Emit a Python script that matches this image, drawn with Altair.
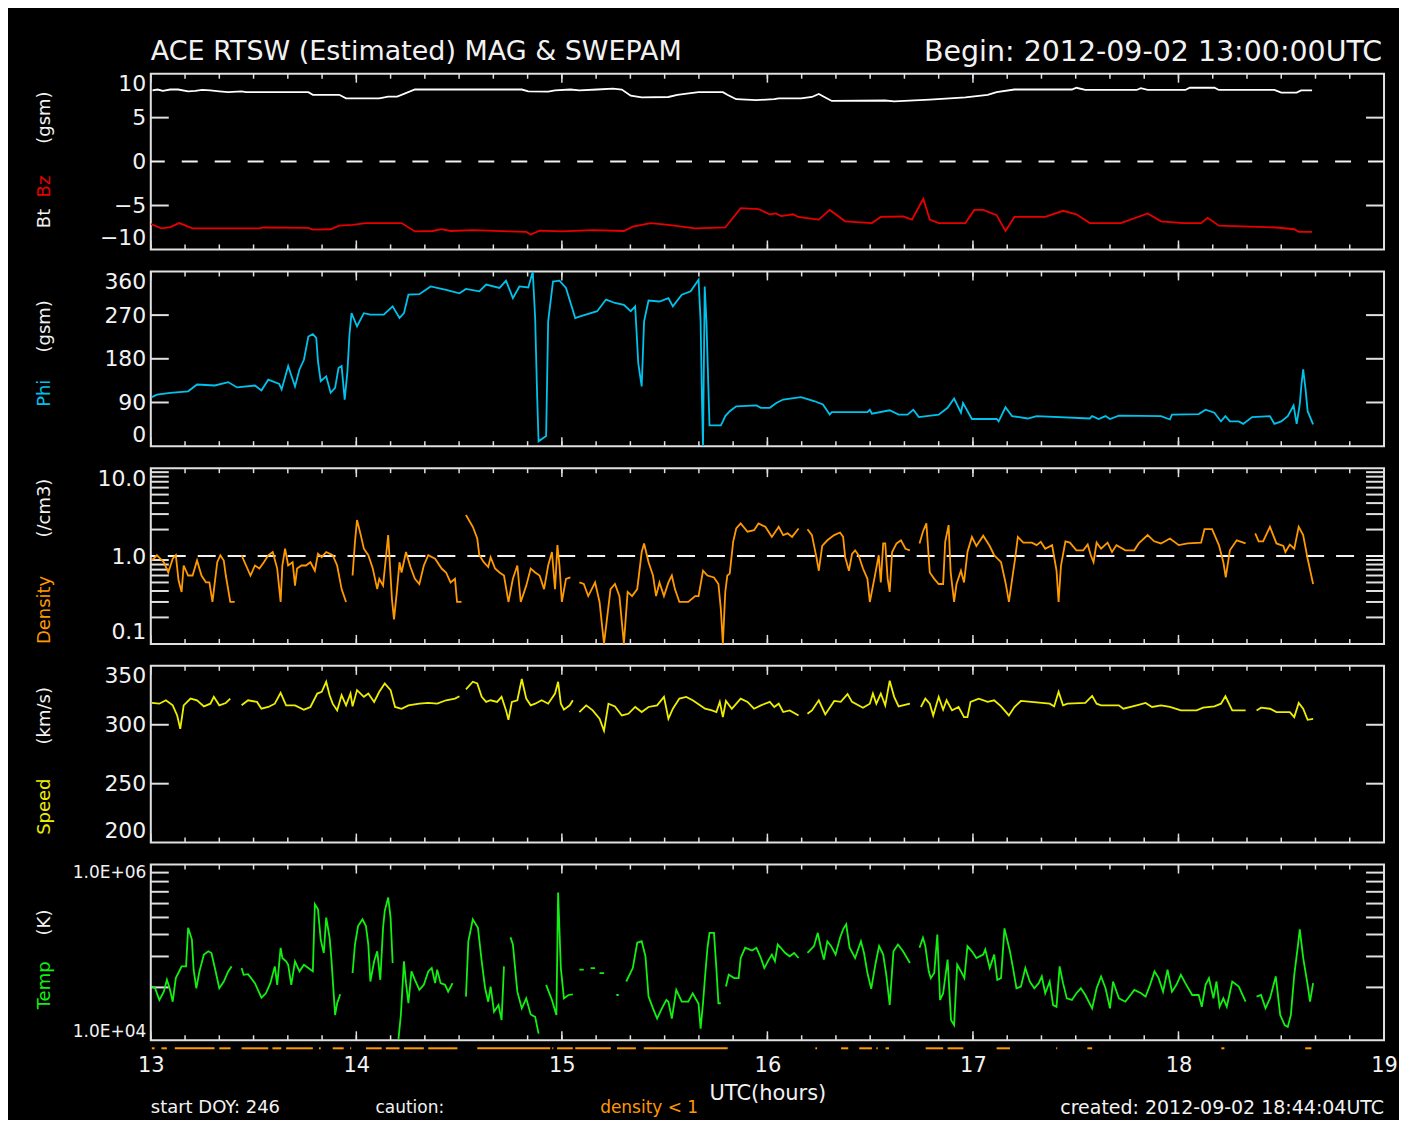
import altair as alt
import pandas as pd

# ---------------- data: (minutes after 13:00 UTC, value) ----------------
bt_segments = [[(0.5, 8.1), (2, 8.2), (3.5, 8.05), (5.7, 8.2), (8, 8.2), (10.9, 8.0), (13, 8.05), (15, 8.15),
                (17.4, 8.1), (20, 8.0), (22.6, 7.9), (26.5, 8.0), (27.8, 7.9), (46, 7.9), (47.3, 7.6), (55, 7.6),
                (57, 7.2), (66.7, 7.2), (69.3, 7.4), (71.9, 7.4), (73.9, 7.7), (77.1, 8.2), (108.3, 8.2),
                (110.2, 8.0), (116, 7.95), (118, 8.1), (122.5, 8.2), (125.1, 8.1), (130.3, 8.2), (134.9, 8.3),
                (137.5, 8.2), (140.1, 7.5), (143.3, 7.3), (151.1, 7.35), (153.7, 7.6), (157.6, 7.8), (159.9, 7.9),
                (167, 7.9), (168.3, 7.6), (170.9, 7.1), (176.8, 7.0), (182, 7.1), (183.3, 7.2), (189.8, 7.2),
                (193, 7.35), (195, 7.7), (196.9, 7.3), (198.8, 6.9), (214.4, 6.95), (217, 6.85), (227.4, 7.05),
                (237.8, 7.3), (244.3, 7.6), (246.9, 7.9), (252.1, 8.2), (268.9, 8.2), (270.2, 8.4), (272.8, 8.15),
                (287.8, 8.15), (289, 8.35), (291, 8.15), (302, 8.15), (303.3, 8.4), (310.5, 8.4), (311.8, 8.15),
                (328, 8.15), (330, 7.85), (334.5, 7.85), (335.8, 8.1), (339, 8.1)]]

bz_segments = [[(0, -7.1), (3.1, -7.6), (5.7, -7.45), (8.3, -7.0), (12.2, -7.6), (31.7, -7.6), (33, -7.5),
                (46, -7.55), (47.3, -7.75), (52.5, -7.7), (55, -7.3), (58.9, -7.2), (62.8, -7.0), (73.2, -7.0),
                (77.1, -7.95), (82.3, -7.9), (84.9, -7.7), (87.5, -7.9), (94, -7.8), (109.6, -8.0), (110.9, -8.3),
                (113.5, -7.85), (120, -7.95), (129, -7.8), (138.1, -7.9), (140.7, -7.4), (145.9, -7.0),
                (151.1, -7.2), (155, -7.4), (158.9, -7.6), (167.7, -7.5), (172.2, -5.3), (177.4, -5.4),
                (180.7, -6.0), (182.5, -5.9), (184, -6.2), (185.9, -6.1), (187.5, -6.0), (189, -6.3),
                (191.1, -6.4), (195, -6.6), (198.2, -5.5), (202.7, -6.8), (210.5, -7.0), (213.1, -6.3),
                (219.6, -6.25), (222.2, -6.6), (225.5, -4.24), (227.4, -6.6), (230, -7.0), (237.8, -7.0),
                (240.4, -5.5), (243, -5.5), (246.9, -6.1), (249.5, -7.9), (252.1, -6.3), (261.1, -6.3),
                (266.3, -5.6), (270.2, -6.0), (274.1, -7.0), (283.2, -7.0), (291, -5.9), (294.9, -6.8),
                (301.4, -7.0), (306.6, -7.0), (308.5, -6.4), (311.8, -7.3), (320.9, -7.4), (328.6, -7.5),
                (333.8, -7.7), (335.1, -8.0), (339, -8.0)]]

phi_segments = [[(0.3, 101), (1.8, 106), (5.7, 110), (10.9, 113), (13.5, 127), (18.7, 125), (22.6, 132),
                 (25.2, 121), (30.4, 125), (32.3, 115), (34.3, 137), (37.5, 128), (38.2, 117), (40.1, 165),
                 (42.1, 123), (43.4, 158), (44.7, 178), (46, 226), (47.3, 231), (48.3, 223), (48.8, 175),
                 (49.6, 134), (51.2, 144), (52.5, 110), (53.8, 120), (54.8, 161), (55.7, 165), (56.6, 96),
                 (57.4, 154), (58, 230), (58.6, 274), (60.2, 247), (62.2, 274), (64.1, 271), (68, 271),
                 (70.6, 288), (72.6, 264), (73.9, 274), (75.2, 312), (78.4, 313), (81.7, 329), (86.2, 322),
                 (90.1, 315), (92, 324), (95.9, 319), (97.9, 333), (101.8, 326), (103.7, 341), (105.7, 305),
                 (107.6, 329), (110.2, 327), (111.5, 360), (112.2, 264), (112.8, 99), (113.2, 10), (115.4, 21),
                 (116, 257), (117.4, 339), (119.3, 341), (121.2, 326), (123.9, 264), (125.1, 267), (130.3, 278),
                 (132.9, 302), (135.5, 295), (138.1, 291), (140.1, 278), (141.4, 288), (142.3, 171), (143.3, 123),
                 (144, 257), (145.3, 300), (148.5, 298), (151.1, 305), (152.4, 288), (155, 312), (157.6, 319),
                 (159.9, 343), (160.5, 257), (160.9, 93), (161.2, 0), (161.7, 329), (162.2, 257), (162.8, 113),
                 (163.1, 43), (166.4, 43), (167, 51), (167.7, 62), (169, 72), (170.9, 82), (176.8, 84),
                 (178.1, 79), (180.7, 79), (182.6, 89), (184.6, 96), (189.8, 101), (193.6, 93), (196.2, 86),
                 (198.2, 65), (198.8, 70), (209.2, 70), (209.9, 75), (210.5, 67), (215.7, 74), (218.3, 65),
                 (220.9, 65), (222.6, 75), (224.2, 60), (230, 65), (232.6, 79), (234.5, 98), (236.5, 69),
                 (237.1, 89), (239.7, 56), (246.9, 56), (247.5, 51), (249.5, 80), (251.4, 62), (256, 57),
                 (258.6, 62), (274.1, 57), (274.8, 62), (276.7, 56), (278.7, 62), (280, 56), (282.6, 63),
                 (294.9, 62), (297.5, 55), (298.1, 65), (305.9, 66), (307.9, 75), (310.5, 69), (312.4, 51),
                 (313.7, 62), (315, 51), (317.6, 51), (318.9, 46), (321.5, 60), (326.7, 62), (328, 46),
                 (330, 51), (331.9, 62), (333.6, 84), (334.5, 46), (335.4, 86), (335.9, 127), (336.4, 158),
                 (337.1, 117), (337.7, 72), (339.3, 45)]]

density_segments = [
    [(0.3, 0.89), (1.8, 1.02), (3.8, 0.85), (5.1, 0.65), (6.4, 0.93), (7.3, 1.02), (8.1, 0.53), (9, 0.39),
     (9.6, 0.78), (10.9, 0.60), (12.2, 0.60), (13.5, 0.89), (14.8, 0.60), (16.1, 0.50), (17.1, 0.50),
     (18, 0.30), (19.4, 0.85), (20.3, 1.02), (21.3, 0.89), (21.9, 0.60), (23.2, 0.30), (24.5, 0.30)],
    [(26.5, 1.02), (27.8, 0.78), (29.1, 0.60), (30.4, 0.78), (31.7, 0.72), (33, 0.85), (34.3, 1.02),
     (35.6, 1.11), (36.9, 0.72), (37.9, 0.30), (38.4, 0.78), (39.2, 1.21), (40.1, 0.78), (41.4, 0.85),
     (42.1, 0.46), (42.7, 0.72), (44, 0.78), (45.3, 0.78), (46.6, 0.85), (47.9, 0.68), (48.8, 1.06),
     (49.9, 0.97), (51.2, 1.11), (53.1, 1.02), (54.4, 0.78), (55.7, 0.42), (57, 0.30)],
    [(58.9, 0.60), (59.6, 1.45), (60.2, 2.57), (61.3, 1.73), (62.2, 1.21), (63.5, 1.02), (64.8, 0.72),
     (66.1, 0.42), (66.7, 0.55), (67.8, 0.46), (68.7, 1.02), (69.3, 1.73), (70.4, 0.32), (71, 0.19),
     (71.9, 0.42), (72.6, 0.85), (73.2, 0.65), (74.5, 1.11), (75.8, 0.75), (77.1, 0.55), (78.4, 0.48),
     (79.7, 0.78), (81, 1.02), (83, 0.93), (84.9, 0.72), (86.2, 0.65), (87.5, 0.50), (88.8, 0.55),
     (89.4, 0.30), (90.7, 0.30)],
    [(92, 2.93), (94, 2.15), (95.3, 1.58), (95.9, 1.02), (97.2, 0.85), (98.5, 0.75), (99.2, 0.97),
     (100.5, 0.72), (101.8, 0.65), (103.1, 0.60), (104.4, 0.30), (105.7, 0.55), (107, 0.78), (108, 0.30),
     (109.6, 0.46), (110.9, 0.72), (112.2, 0.65), (113.5, 0.60), (114.8, 0.42), (116, 0.78), (117.1, 1.11),
     (118, 0.42), (118.7, 1.33), (119.3, 0.78), (120, 0.30), (121.2, 0.55), (122.5, 0.57)],
    [(125.1, 0.50), (126.4, 0.48), (127.7, 0.35), (129.7, 0.50), (131, 0.30), (132.3, 0.10), (134.2, 0.42),
     (135.5, 0.48), (136.8, 0.35), (138.1, 0.10), (139.2, 0.39), (140.5, 0.35), (142, 0.42), (143.3, 1.11),
     (144, 1.39), (145.3, 0.85), (146.6, 0.60), (147.5, 0.35), (148.5, 0.50), (149.8, 0.35), (151.1, 0.50),
     (152.1, 0.60), (153, 0.42), (154.3, 0.30), (156.9, 0.30), (158.9, 0.35), (159.9, 0.35), (161.2, 0.68),
     (162.5, 0.60), (164.4, 0.57), (165.7, 0.48), (166.4, 0.25), (167, 0.10), (167.7, 0.39), (168.3, 0.60),
     (169, 0.63), (170, 1.45), (170.9, 2.06), (172.2, 2.35), (174.2, 1.89), (176.1, 1.97), (177.4, 2.35),
     (179.4, 2.15), (181.3, 1.65), (183.3, 2.15), (184.6, 1.73), (185.9, 1.81), (187.2, 1.65), (189.1, 2.06)],
    [(191.7, 2.02), (193, 1.73), (194.3, 0.97), (195, 0.68), (196, 1.30), (197.5, 1.51), (199.5, 1.73),
     (201.2, 1.85), (202.1, 1.65), (202.7, 0.97), (203.8, 0.68), (204.7, 1.06), (205.6, 1.16), (206.6, 1.02),
     (207.9, 0.72), (209.2, 0.55), (209.9, 0.30), (211.2, 0.55), (212.5, 1.02), (213.1, 0.50), (213.8, 1.39),
     (214.4, 1.39), (215.1, 0.55), (215.7, 0.39), (216.4, 1.11), (217.7, 1.39), (219, 1.51), (220.3, 1.21),
     (221.6, 1.16)],
    [(224.4, 1.39), (225.4, 1.89), (226.4, 2.35), (227.4, 0.65), (228.7, 0.55), (230, 0.48), (231.3, 0.48),
     (231.9, 1.45), (232.9, 2.25), (233.5, 0.65), (234.5, 0.30), (235.2, 0.48), (236.5, 0.68), (237.4, 0.50),
     (238.4, 1.11), (239.7, 1.65), (241, 1.30), (243, 1.70), (244.9, 1.30), (246.2, 1.02), (248.2, 0.85),
     (249.5, 0.50), (250.5, 0.30), (251.4, 0.53), (252.3, 0.93), (253.1, 1.65), (254.7, 1.42), (257.2, 1.42),
     (258.6, 1.33), (259.8, 1.45), (261.1, 1.21), (263.1, 1.33), (264.4, 0.68), (265, 0.30), (265.7, 0.78),
     (267, 1.47), (268.3, 1.42), (270.2, 1.16), (272.2, 1.16), (273.5, 1.35), (274.4, 1.02), (275.2, 0.85),
     (276.1, 1.42), (277.4, 1.21), (279.3, 1.42), (280.6, 1.11), (281.9, 1.33), (284.5, 1.16), (287.1, 1.16),
     (288.4, 1.39), (291, 1.73), (292.9, 1.47), (294.9, 1.39), (297.5, 1.58), (300.1, 1.33), (302.7, 1.39),
     (306.6, 1.42), (307.6, 2.02), (309.8, 2.02), (311.8, 1.33), (313.1, 0.85), (313.8, 0.57), (315, 1.16),
     (317, 1.51), (319.6, 1.39)],
    [(322.4, 1.81), (323.4, 1.47), (324.7, 1.47), (326.7, 2.15), (328.6, 1.39), (330.6, 1.30), (331.2, 1.11),
     (332.5, 1.35), (333.8, 1.21), (335.1, 2.15), (336.4, 1.73), (337.7, 0.93), (339.3, 0.48)],
]

speed_segments = [
    [(0.3, 318.5), (2.5, 317.9), (4.4, 320.8), (6.4, 316.5), (7.7, 307.9), (8.6, 296.5), (9.6, 316.5),
     (11.6, 322.2), (13.5, 320.8), (15.5, 315.6), (17.4, 317.9), (18.4, 323.7), (20, 316.5), (21.9, 318.5),
     (23.2, 322.2)],
    [(26.5, 316.5), (28.4, 320.8), (31, 319.4), (32.3, 313.6), (34.3, 315.1), (36.2, 317.9), (37.9, 327.1),
     (39.5, 316.5), (42.1, 316.5), (44.7, 312.8), (46.6, 315.1), (48.6, 326.5), (49.9, 328), (51.2, 336.5),
     (52.2, 325.1), (53.1, 317.9), (54.4, 312.2), (55.7, 325.1), (57, 316.5), (58.3, 326.5), (58.9, 315.6),
     (60.2, 329.4), (62.2, 323.7), (63.5, 326.5), (65.2, 319.4), (66.7, 328), (68.3, 335.1), (70, 329.4),
     (71.3, 315.1), (73.2, 313.6), (75.2, 316.5), (78.4, 317.9), (81, 318.5), (83.6, 317.9), (86.2, 320.8),
     (88.8, 322.2), (90.1, 324.2)],
    [(92, 330), (94, 336.5), (95.3, 335.1), (96.6, 323.7), (97.9, 319.4), (99.2, 320.8), (101.1, 319.4),
     (102.4, 323.7), (103.7, 312.2), (104.4, 304.2), (105.4, 319.4), (107, 320.8), (108.3, 338.8),
     (109.6, 322.2), (110.9, 316.5), (112.2, 317.9), (114.1, 320.8), (116, 317.9), (118, 326.5),
     (118.9, 336.5), (119.7, 317.9), (120.6, 312.8), (122.3, 316.5), (123.2, 320.8)],
    [(125.1, 310.8), (127.1, 316.5), (129, 312.2), (131, 305.1), (132.3, 295), (133.6, 317.9), (135.5, 315.6),
     (137.5, 307.9), (139.4, 309.3), (141.4, 315.1), (143.3, 310.8), (145.3, 315.1), (147.8, 316.5),
     (149.8, 323.7), (151.1, 305.1), (152.4, 313.6), (154.3, 322.2), (156.3, 323.7), (158.2, 320.8),
     (159.9, 317.5), (161.8, 313.6), (163.8, 312.2), (165.1, 310.8), (166.1, 319.4), (167, 306.5),
     (167.9, 320.2), (169.6, 313.6), (172.2, 322.2), (174.2, 319.4), (176.1, 313.6), (178.1, 316.5),
     (180.7, 319.4), (182, 315.1), (183.3, 317.9), (184.6, 310.8), (186.5, 312.2), (189.1, 307.9)],
    [(191.7, 309.3), (193, 312.2), (195, 320.8), (196.9, 308.8), (199.5, 320.2), (201.4, 319.4), (203.4, 326),
     (204.7, 319.4), (207.9, 314.5), (209.9, 317.9), (210.8, 326.5), (211.8, 317.9), (213.1, 326.5),
     (214.4, 316.5), (215.7, 337.4), (217, 323.7), (218.3, 315.6), (221.6, 317.9)],
    [(224.8, 315.1), (226.1, 322.2), (227.4, 317.9), (228.4, 307.9), (230, 323.7), (231.3, 312.8),
     (232.3, 320.8), (233.9, 312.2), (235.8, 315.1), (237.4, 306.5), (238.4, 306.5), (239.3, 319.4),
     (241.7, 322.2), (244.3, 319.4), (246.2, 320.8), (248.2, 315.6), (250.5, 307.9), (252.1, 315.1),
     (254, 320.2), (262.4, 317.9), (263.7, 315.6), (265, 328), (266.3, 316.5), (267.6, 317.9), (272.8, 318.5),
     (274.8, 324.5), (276.1, 317.9), (277.4, 316.5), (282.6, 316.5), (283.9, 313.6), (287.8, 316.5),
     (290.4, 318.5), (292.3, 315.1), (294.9, 316.5), (297.5, 315.1), (300.7, 312.2), (305.3, 312.2),
     (307.2, 314.5), (310.5, 315.6), (312.4, 317.9), (313.7, 324.2), (315.7, 312.2), (319.6, 312.2)],
    [(322.8, 312.2), (324.1, 314.5), (326.7, 313.6), (328.6, 310.8), (332.5, 310.8), (333.8, 306.5),
     (335.1, 318.5), (336.4, 313.6), (337.7, 304.2), (339.3, 305.1)],
]

temp_segments = [
    [(0.3, 40900), (1.2, 39800), (2.5, 28800), (3.8, 35800), (4.7, 48800), (5.5, 39100), (6.4, 27500),
     (7.3, 51000), (9, 69400), (10.3, 69400), (10.9, 191000), (12, 140000), (12.5, 63600), (13.3, 39100),
     (14.2, 60900), (15.5, 94400), (16.8, 103000), (17.7, 98600), (18.7, 66400), (20, 39100), (21.3, 46700),
     (22.6, 60900), (23.6, 69400)],
    [(26.5, 66400), (27.1, 55700), (28.4, 56700), (30.4, 44700), (32.3, 30600), (33.6, 34300), (34.9, 44700),
     (36.2, 69400), (36.9, 42800), (37.9, 113000), (38.4, 86500), (39.5, 79300), (40.1, 72500), (41, 42800),
     (42.1, 79300), (43.4, 60900), (44.7, 72500), (46, 66400), (47.3, 60900), (47.9, 354000), (48.8, 310000),
     (49.6, 140000), (50.5, 98600), (51.2, 249000), (52.2, 147000), (52.7, 86500), (53.8, 19400),
     (54.4, 26400), (55.3, 33400)],
    [(58.9, 58300), (59.6, 123000), (60.5, 200000), (61.8, 238000), (62.8, 200000), (63.5, 123000),
     (64.1, 46700), (65.2, 79300), (66.1, 103000), (67, 48800), (67.8, 191000), (68.3, 297000),
     (69.3, 422000), (70, 249000), (70.6, 75900)],
    [(72.3, 10400), (73, 19400), (73.9, 79300), (74.5, 44700), (75.2, 26400), (76.1, 60900), (77.1, 48800),
     (78.4, 37500), (79.7, 42800), (81, 60900), (82, 66400), (83, 44700), (83.6, 63600), (84.6, 44700),
     (85.9, 42800), (86.8, 35800), (88.1, 44700)],
    [(92, 31400), (92.7, 134000), (94, 238000), (95.5, 191000), (96.6, 79300), (97.6, 39100), (98.5, 27500),
     (99.2, 40900), (100.2, 21100), (101.5, 25200), (102.4, 17000), (103.1, 69400)],
    [(105, 149000), (105.7, 123000), (107, 35800), (108.3, 23100), (109.6, 30000), (110.9, 19700),
     (112.2, 18500), (113.2, 11900)],
    [(115.4, 42800), (117.1, 28800), (118.4, 19400), (118.9, 482000), (119.7, 66400), (120.6, 30000),
     (121.9, 32800), (123.2, 33400)],
    [(125.1, 63600), (126.4, 63600)],
    [(128.4, 66400), (129.7, 66400)],
    [(131, 58300), (132.3, 58300)],
    [(135.9, 32800), (136.6, 32800)],
    [(138.8, 46700), (140.7, 66400), (142, 129000), (143.3, 134000), (144.4, 90400), (145.3, 31400),
     (146.6, 23100), (147.8, 17700), (149.2, 23100), (150.5, 28800), (151.1, 27500), (152.1, 17700),
     (153.4, 37500), (155, 27500), (156.9, 27500), (158.2, 34300), (159.9, 26000), (160.5, 13600),
     (161.2, 26400), (161.8, 53300), (162.5, 113000), (163.1, 167000), (164.4, 167000), (165.1, 66400),
     (165.7, 26400), (166.4, 26400)],
    [(167.9, 40900), (168.7, 55700), (170.3, 51000), (171.6, 51000), (172.2, 86500), (173.5, 113000),
     (175.5, 105000), (176.8, 113000), (178.1, 86500), (179.1, 66400), (180.4, 82800), (181.3, 94400),
     (182.2, 79300), (183, 123000), (183.9, 113000), (185.2, 98600), (186.5, 90400), (187.8, 98600),
     (189.1, 86500)],
    [(191.7, 98600), (193.6, 118000), (194.7, 167000), (195.6, 113000), (196.5, 82800), (197.5, 134000),
     (198.6, 118000), (199.9, 94400), (201.2, 147000), (202.1, 183000), (203, 209000), (204, 113000),
     (205.6, 86500), (207.3, 134000), (208.2, 98600), (209.2, 58300), (210.3, 38500), (211.6, 75900),
     (212.6, 118000), (213.8, 94400), (214.7, 55700), (215.7, 25200), (216.8, 103000), (218.1, 123000),
     (219.6, 103000), (221.6, 75900)],
    [(224.4, 113000), (225.4, 147000), (226.1, 118000), (227.1, 60900), (227.7, 51000), (228.7, 58300),
     (229.6, 160000), (230.4, 28800), (231.3, 34300), (232.6, 82800), (233.6, 17000), (234.5, 14900),
     (235.4, 72500), (236.5, 60900), (237.5, 51000), (238.4, 118000), (239.7, 103000), (241, 86500),
     (243, 94400), (243.6, 108000), (244.9, 66400), (246.2, 94400), (247.1, 48800), (248.2, 51000),
     (249.2, 188000), (250.8, 103000), (251.7, 66400), (252.7, 39100), (254, 40900), (255.3, 66400),
     (256.6, 46700), (257.9, 39100), (259.2, 44700), (260.1, 53300), (261.1, 34300), (262.4, 46700),
     (263.4, 25200), (264.4, 24100), (265.3, 69400), (266.3, 44700), (267.4, 30000), (268.9, 28800),
     (270.2, 34300), (271.5, 39100), (272.8, 32800), (274.8, 23100), (276.1, 39100), (277.4, 53300),
     (278.7, 39100), (280, 23100), (280.9, 46700), (282.6, 30000), (284.5, 27500), (287.1, 37500),
     (289.1, 34300), (290.4, 31400), (291.7, 42800), (293, 60900), (294.2, 51000), (295.5, 35800),
     (296.8, 63600), (298.1, 35800), (299.4, 42800), (300.7, 55700), (302, 44700), (304, 32800),
     (305.9, 32800), (306.8, 24100), (307.9, 42800), (308.9, 51000), (310.2, 30000), (311.1, 46700),
     (312, 24100), (313.1, 30000), (314.1, 24100), (315.7, 46700), (317.6, 40900), (319.6, 27500)],
    [(322.8, 31400), (324.1, 32800), (325.4, 23100), (326.7, 30000), (328.4, 53300), (329.7, 19400),
     (331, 14900), (331.9, 14200), (332.8, 19400), (333.8, 55700), (334.9, 123000), (335.4, 183000),
     (336.4, 86500), (337.7, 42800), (338.4, 27500), (339.3, 44700)],
]

# caution marks (density < 1), minute ranges
caution_start = [0.3, 3.1, 7, 20, 26.5, 35.5, 39.5, 49.1, 53.1, 58.2, 62.8, 68.6, 73.9, 81, 95.3, 117.2, 118.6,
                 123.9, 136.1, 143.9, 194, 201.5, 206.8, 211.8, 214.5, 226.2, 232.6, 246.9, 264.3, 273.4,
                 312.5, 337]
caution_end = [1.1, 4.7, 18.6, 23.3, 34.3, 38.1, 47.3, 49.6, 56.3, 58.5, 67.4, 72.6, 79.7, 89.5, 116.6, 117.5,
               123.2, 134.3, 141.6, 168.4, 194.5, 203.6, 210.5, 212.2, 215.5, 231.3, 237.2, 250.8, 264.6,
               274.8, 313.4, 338.8]

hour_ticks = [13, 14, 15, 16, 17, 18, 19]
minor_x_ticks = [13 + k / 6 for k in range(37)]
b_labels = [-10, -5, 0, 5, 10]
b_ticks = [-5, 5]
phi_labels = [0, 90, 180, 270, 360]
phi_ticks = [90, 180, 270]
dens_labels = [0.1, 1.0, 10.0]
dens_ticks = [0.2, 0.3, 0.4, 0.5, 0.6, 0.7, 0.8, 0.9, 2, 3, 4, 5, 6, 7, 8, 9]
speed_labels = [200, 250, 300, 350]
speed_ticks = [250, 300]
temp_labels = [1e4, 1e6]
temp_ticks = [40000, 90000, 160000, 250000, 360000, 490000, 640000, 810000]

# ---------------- styling ----------------
W = 1235
HEIGHTS = [176, 175, 176, 177, 176]
FONT = "DejaVu Sans"
FRAME = "#e0e0e0"
WHITE = "#f2f2f2"
BZ = "#e80000"
PHI = "#00c2ec"
DEN = "#ff9900"
SPD = "#eeee00"
TMP = "#11f011"
XS = alt.Scale(domain=[13, 19], nice=False, zero=False)
ONE = pd.DataFrame({"k": [0]})


def seg_frame(segs):
    rows = []
    for i, s in enumerate(segs):
        for m, v in s:
            rows.append({"t": 13 + m / 60.0, "v": v, "seg": i})
    return pd.DataFrame(rows)


def yaxis(values, fmt=None, expr=None, size=22):
    kw = dict(values=values, title=None, labelFlush=True, labelPadding=5, ticks=False, tickSize=0,
              domain=False, grid=False, labelFontSize=size, labelColor=WHITE, labelFont=FONT)
    if fmt:
        kw["format"] = fmt
    if expr:
        kw["labelExpr"] = expr
    return alt.Axis(**kw)


def line(segs, color, ys, axis, xaxis=None):
    return alt.Chart(seg_frame(segs)).mark_line(color=color, strokeWidth=1.8, clip=True).encode(
        x=alt.X("t:Q", scale=XS, axis=xaxis),
        y=alt.Y("v:Q", scale=ys, axis=axis),
        detail="seg:N",
    )


def frame_ticks(yvals, ys, h):
    out = []
    mn = alt.Chart(pd.DataFrame({"t": minor_x_ticks}))
    mj = alt.Chart(pd.DataFrame({"t": hour_ticks}))
    x_enc = alt.X("t:Q", scale=XS, axis=None)
    out.append(mn.mark_rule(color=FRAME, strokeWidth=1.5).encode(x=x_enc, y=alt.value(0), y2=alt.value(5)))
    out.append(mn.mark_rule(color=FRAME, strokeWidth=1.5).encode(x=x_enc, y=alt.value(h), y2=alt.value(h - 5)))
    out.append(mj.mark_rule(color=FRAME, strokeWidth=1.5).encode(x=x_enc, y=alt.value(0), y2=alt.value(9)))
    out.append(mj.mark_rule(color=FRAME, strokeWidth=1.5).encode(x=x_enc, y=alt.value(h), y2=alt.value(h - 9)))
    yd = alt.Chart(pd.DataFrame({"v": yvals}))
    y_enc = alt.Y("v:Q", scale=ys, axis=None)
    out.append(yd.mark_rule(color=FRAME, strokeWidth=2).encode(y=y_enc, x=alt.value(0), x2=alt.value(18)))
    out.append(yd.mark_rule(color=FRAME, strokeWidth=2).encode(y=y_enc, x=alt.value(W - 18), x2=alt.value(W)))
    return out


def dashed(v, ys, dash):
    return alt.Chart(pd.DataFrame({"v": [v]})).mark_rule(color=WHITE, strokeWidth=2, strokeDash=dash).encode(
        y=alt.Y("v:Q", scale=ys, axis=None))


def text(txt, color, x, y, size, angle=None, align="center", baseline="middle"):
    kw = dict(text=txt, color=color, font=FONT, fontSize=size, align=align, baseline=baseline)
    if angle is not None:
        kw["angle"] = angle
    return alt.Chart(ONE).mark_text(**kw).encode(x=alt.value(x), y=alt.value(y))


def panel(layers, h):
    return alt.layer(*layers).resolve_axis(x="independent", y="independent").properties(width=W, height=h)


LX = -106

# panel 1: Bt / Bz
ys1 = alt.Scale(domain=[-10, 10], nice=False, zero=False)
p1 = panel([
    *frame_ticks(b_ticks, ys1, HEIGHTS[0]),
    dashed(0, ys1, [16, 17]),
    line(bt_segments, "#ffffff", ys1, yaxis(b_labels, fmt="d")),
    line(bz_segments, BZ, ys1, None),
    text("Bt", WHITE, LX, 145, 18, angle=270),
    text("Bz", BZ, LX, 113, 18, angle=270),
    text("(gsm)", WHITE, LX, 44, 18, angle=270),
    text("ACE RTSW (Estimated) MAG & SWEPAM", WHITE, 0, -22, 27, align="left"),
    text("Begin: 2012-09-02 13:00:00UTC", WHITE, W - 2, -22, 28.5, align="right"),
], HEIGHTS[0])

# panel 2: Phi
ys2 = alt.Scale(domain=[0, 360], nice=False, zero=False)
p2 = panel([
    *frame_ticks(phi_ticks, ys2, HEIGHTS[1]),
    line(phi_segments, PHI, ys2, yaxis(phi_labels, fmt="d")),
    text("Phi", PHI, LX, 122, 18, angle=270),
    text("(gsm)", WHITE, LX, 55, 18, angle=270),
], HEIGHTS[1])

# panel 3: density
ys3 = alt.Scale(type="log", domain=[0.1, 10], nice=False)
p3 = panel([
    *frame_ticks(dens_ticks, ys3, HEIGHTS[2]),
    dashed(1.0, ys3, [18, 12]),
    line(density_segments, DEN, ys3, yaxis(dens_labels, fmt=".1f")),
    text("Density", DEN, LX, 142, 18, angle=270),
    text("(/cm3)", WHITE, LX, 40, 18, angle=270),
], HEIGHTS[2])

# panel 4: speed
ys4 = alt.Scale(domain=[200, 350], nice=False, zero=False)
p4 = panel([
    *frame_ticks(speed_ticks, ys4, HEIGHTS[3]),
    line(speed_segments, SPD, ys4, yaxis(speed_labels, fmt="d")),
    text("Speed", SPD, LX, 141, 18, angle=270),
    text("(km/s)", WHITE, LX, 50, 18, angle=270),
], HEIGHTS[3])

# panel 5: temperature
ys5 = alt.Scale(type="log", domain=[1e4, 1e6], nice=False)
xaxis5 = alt.Axis(values=hour_ticks, format="d", title="UTC(hours)", ticks=False, tickSize=0, domain=False,
                  grid=False, labelFlush=False, labelFontSize=21, labelColor=WHITE, labelFont=FONT,
                  labelPadding=14, titleFont=FONT, titleFontSize=21, titleFontWeight="normal",
                  titleColor=WHITE, titlePadding=7)
caution_df = pd.DataFrame({"t0": [13 + m / 60 for m in caution_start], "t1": [13 + m / 60 for m in caution_end]})
H5 = HEIGHTS[4]
FY = 244
p5 = panel([
    *frame_ticks(temp_ticks, ys5, H5),
    line(temp_segments, TMP, ys5,
         yaxis(temp_labels, expr="datum.value >= 100000 ? '1.0E+06' : '1.0E+04'", size=17), xaxis=xaxis5),
    alt.Chart(caution_df).mark_rule(color=DEN, strokeWidth=2).encode(
        x=alt.X("t0:Q", scale=XS, axis=None), x2="t1:Q", y=alt.value(H5 + 8)),
    text("Temp", TMP, LX, 121, 18, angle=270),
    text("(K)", WHITE, LX, 58, 18, angle=270),
    text("start DOY: 246", WHITE, 0, FY, 18, align="left"),
    text("caution:", WHITE, 225, FY, 17, align="left"),
    text("density < 1", DEN, 450, FY, 17, align="left"),
    text("created: 2012-09-02 18:44:04UTC", WHITE, W, FY, 19, align="right"),
], H5)

chart = alt.vconcat(p1, p2, p3, p4, p5, spacing=22, bounds="flush").properties(
    background="black",
    padding={"left": 27, "top": 28, "right": 0, "bottom": 0},
).configure_view(stroke=FRAME, strokeWidth=2)

chart.save("out.html", embed_options={"renderer": "svg", "actions": False})
